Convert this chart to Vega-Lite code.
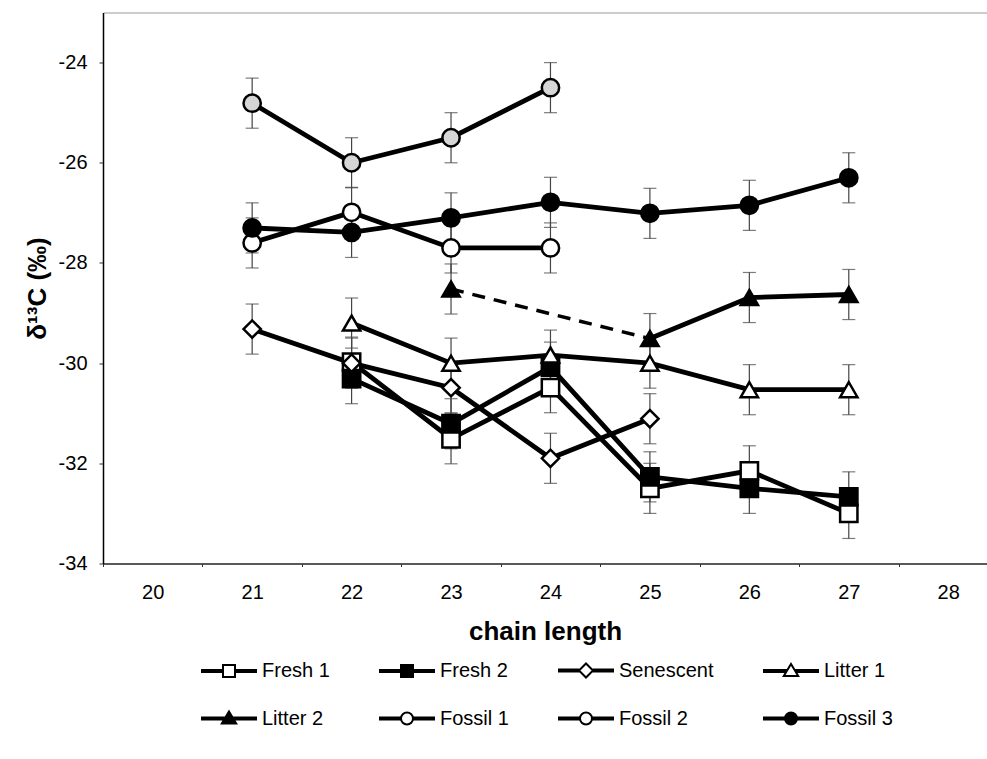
{
  "$schema": "https://vega.github.io/schema/vega-lite/v6.json",
  "width": 884,
  "height": 551,
  "autosize": {"type": "none"},
  "padding": {"left": 103, "top": 12.5, "right": 0, "bottom": 195.5},
  "background": "white",
  "config": {
    "view": {"stroke": "#999", "strokeWidth": 1},
    "font": "Liberation Sans",
    "axis": {"labelFont": "Liberation Sans", "titleFont": "Liberation Sans", "labelColor": "black", "titleColor": "black", "grid": false, "domainColor": "black", "tickColor": "#333"}
  },
  "data": {
    "values": [
      {"series": "Fresh 1", "x": 22, "value": -29.98, "sd": 0.5},
      {"series": "Fresh 1", "x": 23, "value": -31.51, "sd": 0.5},
      {"series": "Fresh 1", "x": 24, "value": -30.49, "sd": 0.5},
      {"series": "Fresh 1", "x": 25, "value": -32.5, "sd": 0.5},
      {"series": "Fresh 1", "x": 26, "value": -32.15, "sd": 0.5},
      {"series": "Fresh 1", "x": 27, "value": -33.0, "sd": 0.5},
      {"series": "Fresh 2", "x": 22, "value": -30.31, "sd": 0.5},
      {"series": "Fresh 2", "x": 23, "value": -31.21, "sd": 0.5},
      {"series": "Fresh 2", "x": 24, "value": -30.08, "sd": 0.5},
      {"series": "Fresh 2", "x": 25, "value": -32.27, "sd": 0.5},
      {"series": "Fresh 2", "x": 26, "value": -32.5, "sd": 0.5},
      {"series": "Fresh 2", "x": 27, "value": -32.67, "sd": 0.5},
      {"series": "Senescent", "x": 21, "value": -29.32, "sd": 0.5},
      {"series": "Senescent", "x": 22, "value": -30.0, "sd": 0.5},
      {"series": "Senescent", "x": 23, "value": -30.49, "sd": 0.5},
      {"series": "Senescent", "x": 24, "value": -31.9, "sd": 0.5},
      {"series": "Senescent", "x": 25, "value": -31.11, "sd": 0.5},
      {"series": "Litter 1", "x": 22, "value": -29.2, "sd": 0.5},
      {"series": "Litter 1", "x": 23, "value": -30.0, "sd": 0.5},
      {"series": "Litter 1", "x": 24, "value": -29.84, "sd": 0.5},
      {"series": "Litter 1", "x": 25, "value": -30.0, "sd": 0.5},
      {"series": "Litter 1", "x": 26, "value": -30.53, "sd": 0.5},
      {"series": "Litter 1", "x": 27, "value": -30.53, "sd": 0.5},
      {"series": "Litter 2", "x": 23, "value": -28.52, "sd": 0.5},
      {"series": "Litter 2", "x": 25, "value": -29.51, "sd": 0.5},
      {"series": "Litter 2", "x": 26, "value": -28.69, "sd": 0.5},
      {"series": "Litter 2", "x": 27, "value": -28.63, "sd": 0.5},
      {"series": "Fossil 1", "x": 21, "value": -27.6, "sd": 0.5},
      {"series": "Fossil 1", "x": 22, "value": -26.99, "sd": 0.5},
      {"series": "Fossil 1", "x": 23, "value": -27.7, "sd": 0.5},
      {"series": "Fossil 1", "x": 24, "value": -27.7, "sd": 0.5},
      {"series": "Fossil 2", "x": 21, "value": -24.81, "sd": 0.5},
      {"series": "Fossil 2", "x": 22, "value": -26.0, "sd": 0.5},
      {"series": "Fossil 2", "x": 23, "value": -25.5, "sd": 0.5},
      {"series": "Fossil 2", "x": 24, "value": -24.5, "sd": 0.5},
      {"series": "Fossil 3", "x": 21, "value": -27.3, "sd": 0.5},
      {"series": "Fossil 3", "x": 22, "value": -27.39, "sd": 0.5},
      {"series": "Fossil 3", "x": 23, "value": -27.1, "sd": 0.5},
      {"series": "Fossil 3", "x": 24, "value": -26.79, "sd": 0.5},
      {"series": "Fossil 3", "x": 25, "value": -27.01, "sd": 0.5},
      {"series": "Fossil 3", "x": 26, "value": -26.85, "sd": 0.5},
      {"series": "Fossil 3", "x": 27, "value": -26.3, "sd": 0.5}
    ]
  },
  "encoding": {
    "x": {
      "field": "x", "type": "quantitative",
      "scale": {"domain": [19.5, 28.39], "nice": false, "zero": false},
      "axis": {
        "title": "chain length", "titleFontSize": 26, "titleFontWeight": "bold", "titlePadding": 16,
        "values": [20, 21, 22, 23, 24, 25, 26, 27, 28],
        "tickOffset": -49.7, "labelOffset": 49.7, "tickSize": 3, "labelPadding": 16,
        "labelFontSize": 20, "domainWidth": 1.5, "domainColor": "#333"
      }
    },
    "y": {
      "field": "value", "type": "quantitative",
      "scale": {"domain": [-34, -23], "nice": false, "zero": false},
      "axis": {
        "title": "δ¹³C (‰)", "titleFontSize": 26, "titleFontWeight": "bold", "titlePadding": 8,
        "values": [-34, -32, -30, -28, -26, -24],
        "labelExpr": "'' + datum.value",
        "tickSize": 4, "labelPadding": 12, "labelFontSize": 20, "domainWidth": 1.5
      }
    }
  },
  "layer": [
    {
      "mark": {"type": "errorbar", "ticks": true, "size": 13, "thickness": 1.2, "color": "#444"},
      "encoding": {
        "y": {"field": "value", "type": "quantitative"},
        "yError": {"field": "sd"},
        "detail": {"field": "series"}
      }
    },
    {
      "transform": [{"filter": "!(datum.series == 'Litter 2' && datum.x == 23)"}],
      "mark": {"type": "line", "color": "black", "strokeWidth": 4.8},
      "encoding": {"detail": {"field": "series"}}
    },
    {
      "transform": [{"filter": "datum.series == 'Litter 2' && datum.x <= 25"}],
      "mark": {"type": "line", "color": "black", "strokeWidth": 3.5, "strokeDash": [13, 9]},
      "encoding": {"detail": {"field": "series"}}
    },
    {
      "mark": {"type": "point", "filled": true, "stroke": "black", "strokeWidth": 2.5, "opacity": 1},
      "encoding": {
        "shape": {
          "field": "series",
          "scale": {"domain": ["Fresh 1", "Fresh 2", "Senescent", "Litter 1", "Litter 2", "Fossil 1", "Fossil 2", "Fossil 3"],
                    "range": ["square", "square", "diamond", "triangle-up", "triangle-up", "circle", "circle", "circle"]},
          "legend": null
        },
        "fill": {
          "field": "series",
          "scale": {"domain": ["Fresh 1", "Fresh 2", "Senescent", "Litter 1", "Litter 2", "Fossil 1", "Fossil 2", "Fossil 3"],
                    "range": ["white", "black", "white", "white", "black", "white", "#d6d6d6", "black"]},
          "legend": null
        },
        "size": {
          "field": "series",
          "scale": {"domain": ["Fresh 1", "Fresh 2", "Senescent", "Litter 1", "Litter 2", "Fossil 1", "Fossil 2", "Fossil 3"],
                    "range": [300, 300, 360, 430, 430, 350, 350, 350]},
          "legend": null
        }
      }
    },
    {
      "transform": [{"filter": "datum.x < 0"}],
      "mark": {"type": "point", "filled": false, "stroke": "black", "color": "black", "strokeWidth": 2, "opacity": 1},
      "encoding": {
        "shape": {
          "field": "series",
          "scale": {"domain": ["Fresh 1", "Fresh 2", "Senescent", "Litter 1", "Litter 2", "Fossil 1", "Fossil 2", "Fossil 3"],
                    "range": [
                      "M-1.4,-0.05H-0.3M-1.4,0.05H-0.3M0.3,-0.05H1.4M0.3,0.05H1.4M-0.3,-0.3H0.3V0.3H-0.3Z",
                      "M-1.4,-0.05H-0.3M-1.4,0.05H-0.3M0.3,-0.05H1.4M0.3,0.05H1.4M-0.3,-0.3H0.3V0.3H-0.3ZM-0.2,-0.2H0.2V0.2H-0.2ZM-0.1,-0.1H0.1V0.1H-0.1ZM-0.05,0H0.05",
                      "M-1.4,-0.05H-0.34M-1.4,0.05H-0.34M0.34,-0.05H1.4M0.34,0.05H1.4M0,-0.35L0.35,0L0,0.35L-0.35,0Z",
                      "M-1.4,-0.05H-0.2M-1.4,0.05H-0.2M0.2,-0.05H1.4M0.2,0.05H1.4M0,-0.35L0.36,0.25L-0.36,0.25Z",
                      "M-1.4,-0.05H-0.2M-1.4,0.05H-0.2M0.2,-0.05H1.4M0.2,0.05H1.4M0,-0.35L0.36,0.25L-0.36,0.25ZM0,-0.218L0.241,0.184L-0.241,0.184ZM0,-0.082L0.119,0.116L-0.119,0.116ZM-0.03,0.05H0.03",
                      "M-1.4,-0.05H-0.3M-1.4,0.05H-0.3M0.3,-0.05H1.4M0.3,0.05H1.4M0.3,0A0.3,0.3 0 1,1 -0.3,0A0.3,0.3 0 1,1 0.3,0Z",
                      "M-1.4,-0.05H-0.3M-1.4,0.05H-0.3M0.3,-0.05H1.4M0.3,0.05H1.4M0.3,0A0.3,0.3 0 1,1 -0.3,0A0.3,0.3 0 1,1 0.3,0Z",
                      "M-1.4,-0.05H-0.3M-1.4,0.05H-0.3M0.3,-0.05H1.4M0.3,0.05H1.4M0.3,0A0.3,0.3 0 1,1 -0.3,0A0.3,0.3 0 1,1 0.3,0ZM0.2,0A0.2,0.2 0 1,1 -0.2,0A0.2,0.2 0 1,1 0.2,0ZM0.1,0A0.1,0.1 0 1,1 -0.1,0A0.1,0.1 0 1,1 0.1,0ZM-0.05,0H0.05"
                    ]},
          "legend": {
            "title": null, "orient": "none", "legendX": 105, "legendY": 637, "direction": "horizontal", "columns": 4,
            "symbolSize": 1600, "symbolStrokeWidth": 2, "symbolStrokeColor": "black", "symbolFillColor": "transparent",
            "labelFont": "Liberation Sans", "labelFontSize": 20, "labelColor": "black", "labelOffset": 12,
            "columnPadding": 45, "rowPadding": 16, "gridAlign": "each"
          }
        }
      }
    }
  ],
  "resolve": {"scale": {"shape": "independent", "fill": "independent", "size": "independent"}}
}
